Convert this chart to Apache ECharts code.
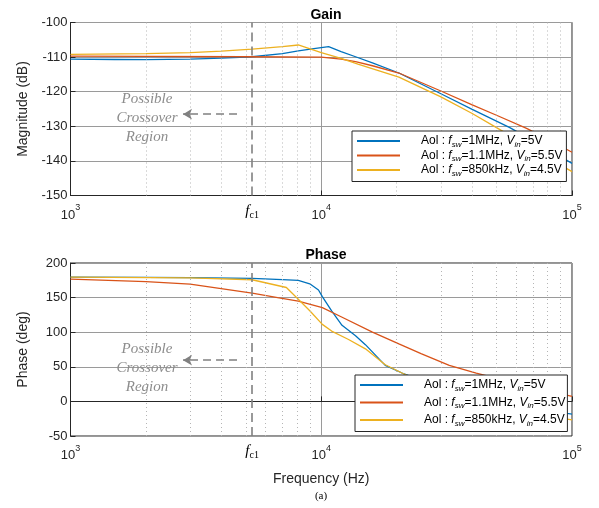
<!DOCTYPE html>
<html><head><meta charset="utf-8">
<script src="https://cdn.jsdelivr.net/npm/echarts@6/dist/echarts.min.js"></script>
<style>html,body{margin:0;padding:0;background:#fff}#c{width:599px;height:508px}</style>
</head><body><div id="c"></div>
<script>
// ---------- data ----------
const minorFreqs = [2000,3000,4000,5000,6000,7000,8000,9000,20000,30000,40000,50000,60000,70000,80000,90000];
const fc1 = 5300;
const seriesNames = ['blue', 'red', 'yellow'];

const gainFreqBlue = [1000,1500,2000,3000,4000,5300,7000,8100,9500,10700,12000,13700,16000,20400,30000,40000,56500,70000,100000];
const gainBlue     = [-110.6,-110.7,-110.75,-110.6,-110.3,-109.9,-109.0,-108.2,-107.5,-107.0,-108.4,-109.9,-111.7,-114.6,-120.6,-125.1,-130.4,-134.2,-140.7];
const gainFreqRed  = [1000,2000,5000,10000,12000,13700,16000,20400,30000,40000,50000,65900,80000,100000];
const gainRed      = [-109.7,-109.8,-109.9,-110.0,-110.6,-111.3,-112.5,-114.6,-119.8,-123.8,-126.8,-130.6,-133.7,-137.5];
const gainFreqYellow = [1000,2000,3000,4000,5300,7000,8100,10000,12000,14000,20400,30000,40000,50000,70000,100000];
const gainYellow     = [-109.2,-109.0,-108.7,-108.3,-107.7,-107.0,-106.5,-108.7,-110.4,-112.0,-115.8,-121.5,-126.3,-130.4,-136.6,-143.1];

const phaseFreqBlue = [1000,2000,3000,5300,7000,8100,9000,9750,10100,11000,12100,13700,15000,18000,21000,30000,50000,70000,100000];
const phaseBlue     = [179.6,179.3,179.0,177.7,176.0,174.8,170,161,151.5,130.7,110,95,82,52,41,20,0,-10,-18.5];
const phaseFreqRed  = [1000,2000,3000,5300,6700,8100,10100,12000,16000,20400,25000,32400,41500,60000,100000];
const phaseRed      = [176.7,173,169.5,156.4,150,145,135.6,122.3,100,83,69,52,41,26,7.2];
const phaseFreqYellow = [1000,3000,5300,7260,8100,9000,10100,11000,12850,15000,18000,21000,30000,50000,70000,100000];
const phaseYellow     = [179.6,178.5,175.8,164.6,147.7,131,111.3,101.6,89.5,76,53,41,15,-8,-18,-26.7];

const gainYTicks = [-150,-100,10];
const phaseYTicks = [-50,200,50];
const arrowFreqs = [4615, 2810];
const arrowGain = -126.5;
const arrowPhase = 59.6;

// ---------- styling ----------
const colors = {blue:'#0072BD', red:'#D95319', yellow:'#EDB120'};
const FONT = '"Liberation Sans", Arial, Helvetica, sans-serif';
const SERIF = '"Liberation Serif", "Times New Roman", serif';
const zip = (a,b) => a.map((v,i)=>[v,b[i]]);

const legendText = {
  blue:   '{sp|}{n|Aol : }{i|f}{s|sw}{n|=1MHz, }{i|V}{s|in}{n|=5V}',
  red:    '{sp|}{n|Aol : }{i|f}{s|sw}{n|=1.1MHz, }{i|V}{s|in}{n|=5.5V}',
  yellow: '{sp|}{n|Aol : }{i|f}{s|sw}{n|=850kHz, }{i|V}{s|in}{n|=4.5V}'
};
const legendRich = {
  sp:{width:16},
  n:{fontSize:12, fontFamily:FONT, color:'#000', lineHeight:15},
  i:{fontSize:12, fontFamily:FONT, fontStyle:'italic', color:'#000', lineHeight:15},
  s:{fontSize:8, fontFamily:FONT, fontStyle:'italic', color:'#000', lineHeight:15, verticalAlign:'bottom'}
};

function xAxisCfg(gi){
  return {
    type:'log', logBase:10, min:1000, max:100000, gridIndex:gi,
    axisLine:{show:true, lineStyle:{color:'#262626', width:1}},
    axisTick:{show:true, inside:true, length:5, lineStyle:{color:'#262626'}},
    splitLine:{show:true, lineStyle:{color:'#9a9a9a', width:1}},
    axisLabel:{margin:8, formatter:(v)=>'{b|10}{sup|'+Math.round(Math.log10(v))+'}',
      rich:{b:{fontSize:13, fontFamily:FONT, color:'#262626', lineHeight:18, verticalAlign:'bottom'},
            sup:{fontSize:9, fontFamily:FONT, color:'#262626', lineHeight:18, verticalAlign:'top'}}},
    name: gi===1 ? 'Frequency (Hz)' : '', nameLocation:'middle', nameGap:36,
    nameTextStyle:{fontSize:14, fontFamily:FONT, color:'#262626'}
  };
}
function yAxisCfg(gi, ticks, name){
  return {
    type:'value', gridIndex:gi, min:ticks[0], max:ticks[1], interval:ticks[2],
    axisLine:{show:true, lineStyle:{color:'#262626', width:1}},
    axisTick:{show:true, inside:true, length:5, lineStyle:{color:'#262626'}},
    splitLine:{show:true, lineStyle:{color:'#9a9a9a', width:1}},
    axisLabel:{margin:3, fontSize:13, fontFamily:FONT, color:'#262626'},
    name:name, nameLocation:'middle', nameGap:40,
    nameTextStyle:{fontSize:14, fontFamily:FONT, color:'#262626'}
  };
}
function curve(name, gi, fr, vals, extra){
  return Object.assign({
    name:name, type:'line', xAxisIndex:gi, yAxisIndex:gi, data:zip(fr, vals),
    showSymbol:false, symbol:'none', smooth:false, clip:true,
    lineStyle:{color:colors[name], width:1.3}, itemStyle:{color:colors[name]}, z:2
  }, extra||{});
}
function annotLines(yArrow){
  return {
    silent:true, symbol:['none','none'], animation:false, label:{show:false},
    data:[
      ...minorFreqs.map(f=>({xAxis:f, lineStyle:{type:[1,3], color:'#b5b5b5', width:1}})),
      {xAxis:fc1, lineStyle:{type:[9,5], color:'#808080', width:1.6}},
      [{coord:[arrowFreqs[0], yArrow], symbol:'none', lineStyle:{type:[8,5], color:'#808080', width:1.6}},
       {coord:[arrowFreqs[1], yArrow], symbol:'arrow', symbolSize:[8,9]}]
    ]
  };
}
function legendCfg(top, left, gap, padR){
  return {
    show:true, data:seriesNames, orient:'vertical', left:left, top:top, z:20, zlevel:0,
    icon:'rect', itemWidth:43, itemHeight:2, itemGap:gap,
    padding:[4,padR,4,5], backgroundColor:'#fff', borderColor:'#262626', borderWidth:1, borderRadius:0,
    selectedMode:false,
    formatter:(n)=>legendText[n], textStyle:{rich:legendRich}
  };
}

const chart = echarts.init(document.getElementById('c'), null, {renderer:'canvas'});
const option = {
  animation:false,
  backgroundColor:'#fff',
  title:[
    {text:'Gain', left:321, top:3, textAlign:'center', textStyle:{fontSize:14, fontWeight:'bold', fontFamily:FONT, color:'#000'}},
    {text:'Phase', left:321, top:243, textAlign:'center', textStyle:{fontSize:14, fontWeight:'bold', fontFamily:FONT, color:'#000'}}
  ],
  grid:[
    {left:70.5, top:22.5, width:501.5, height:173, show:true, borderColor:'#262626', borderWidth:1, backgroundColor:'transparent'},
    {left:70.5, top:263, width:501.5, height:173, show:true, borderColor:'#262626', borderWidth:1, backgroundColor:'transparent'}
  ],
  xAxis:[xAxisCfg(0), xAxisCfg(1)],
  yAxis:[yAxisCfg(0, gainYTicks, 'Magnitude (dB)'), yAxisCfg(1, phaseYTicks, 'Phase (deg)')],
  legend:[legendCfg(131, 352, 1, 4), legendCfg(375, 355, 4, 2)],
  series:[
    curve('blue', 0, gainFreqBlue, gainBlue, {markLine:annotLines(arrowGain)}),
    curve('red', 0, gainFreqRed, gainRed),
    curve('yellow', 0, gainFreqYellow, gainYellow),
    curve('blue', 1, phaseFreqBlue, phaseBlue, {markLine:annotLines(arrowPhase)}),
    curve('red', 1, phaseFreqRed, phaseRed),
    curve('yellow', 1, phaseFreqYellow, phaseYellow)
  ]
};
chart.setOption(option);

const fx0 = chart.convertToPixel({xAxisIndex:0}, fc1);
const fx1 = chart.convertToPixel({xAxisIndex:1}, fc1);
const fcRich = {f:{fontSize:15, fontFamily:SERIF, fontStyle:'italic', fill:'#000', lineHeight:18},
                s:{fontSize:10, fontFamily:SERIF, fill:'#000', lineHeight:18, verticalAlign:'bottom'}};
const crossText = (y)=>({type:'text', x:147, y:y, silent:true,
  style:{text:'Possible\nCrossover\nRegion', font:'italic 15px '+SERIF, fill:'#8c8c8c', align:'center', verticalAlign:'top', lineHeight:19}});
chart.setOption({graphic:[
  crossText(90),
  crossText(340),
  {type:'text', x:fx0, y:202, silent:true, style:{text:'{f|f}{s|c1}', rich:fcRich, align:'center', verticalAlign:'top'}},
  {type:'text', x:fx1, y:442, silent:true, style:{text:'{f|f}{s|c1}', rich:fcRich, align:'center', verticalAlign:'top'}},
  {type:'text', x:321, y:491, silent:true, style:{text:'(a)', font:'11px '+SERIF, fill:'#000', align:'center', verticalAlign:'top'}}
]});
</script></body></html>
